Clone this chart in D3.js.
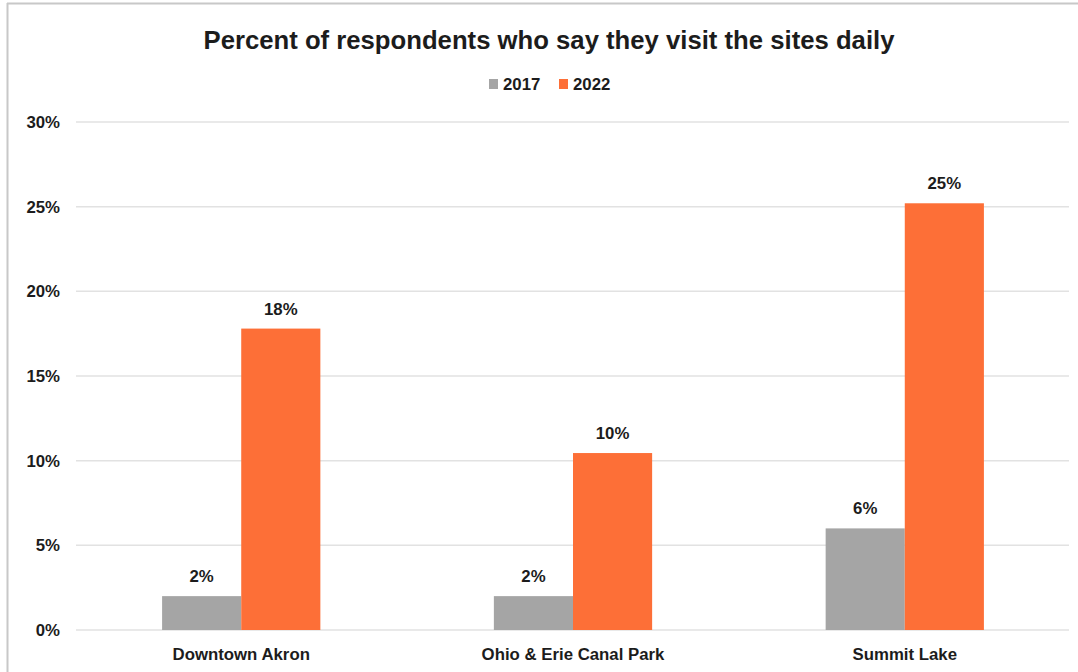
<!DOCTYPE html>
<html><head><meta charset="utf-8">
<script src="https://cdn.jsdelivr.net/npm/d3@7"></script>
<style>html,body{margin:0;padding:0;background:#fff;}svg{display:block;}</style>
</head><body>
<svg id="chart" width="1078" height="672"></svg>
<script>
const categories = ["Downtown Akron", "Ohio & Erie Canal Park", "Summit Lake"];
const seriesNames = ["2017", "2022"];
const values2017 = [2.0, 2.0, 6.0];
const values2022 = [17.8, 10.45, 25.2];
const labels2017 = ["2%", "2%", "6%"];
const labels2022 = ["18%", "10%", "25%"];
const yTicks = [0, 5, 10, 15, 20, 25, 30];
const colors = ["#a5a5a5", "#fd6f37"];

const svg = d3.select("#chart");
const W = 1078, H = 672;
const font = "'Liberation Sans', Arial, sans-serif";
const textColor = "#1c1c1c";
const fs = 16.8;

// frame
svg.append("rect").attr("x", 0).attr("y", 0).attr("width", W).attr("height", H).attr("fill", "#fff");
svg.append("line").attr("x1", 7.5).attr("x2", 7.5).attr("y1", 3).attr("y2", H).attr("stroke", "#c8c8c8").attr("stroke-width", 2);
svg.append("line").attr("x1", 7).attr("x2", W).attr("y1", 3.5).attr("y2", 3.5).attr("stroke", "#c8c8c8").attr("stroke-width", 2);

const x0 = d3.scaleBand().domain(categories).range([76.5, 1069.5]).paddingInner(0.523).paddingOuter(0.258);
const x1 = d3.scaleBand().domain(seriesNames).range([0, x0.bandwidth()]);
const y = d3.scaleLinear().domain([0, 30]).range([630, 122]);

// gridlines
svg.append("g").selectAll("line").data(yTicks).join("line")
  .attr("x1", 76).attr("x2", 1069)
  .attr("y1", d => y(d)).attr("y2", d => y(d))
  .attr("stroke", "#e2e2e2").attr("stroke-width", 1.5);

// y axis labels
const yAxis = d3.axisLeft(y).tickValues(yTicks).tickFormat(d => d + "%").tickSize(0).tickPadding(0);
const gy = svg.append("g").attr("transform", "translate(60,0)").call(yAxis);
gy.select(".domain").remove();
gy.selectAll("text").attr("font-family", font).attr("font-weight", "bold").attr("font-size", fs).attr("fill", textColor);

// bars
const data = categories.map((c, i) => ({cat: c, vals: [
  {s: "2017", v: values2017[i], l: labels2017[i], c: colors[0]},
  {s: "2022", v: values2022[i], l: labels2022[i], c: colors[1]}]}));

const groups = svg.append("g").selectAll("g").data(data).join("g")
  .attr("transform", d => `translate(${x0(d.cat)},0)`);
groups.selectAll("rect").data(d => d.vals).join("rect")
  .attr("x", d => x1(d.s)).attr("width", x1.bandwidth())
  .attr("y", d => y(d.v)).attr("height", d => y(0) - y(d.v))
  .attr("fill", d => d.c);
groups.selectAll("text").data(d => d.vals).join("text")
  .attr("x", d => x1(d.s) + x1.bandwidth() / 2)
  .attr("y", d => y(d.v) - 14)
  .attr("text-anchor", "middle")
  .attr("font-family", font).attr("font-weight", "bold").attr("font-size", fs).attr("fill", textColor)
  .text(d => d.l);

// x axis labels
const xAxis = d3.axisBottom(x0).tickSize(0).tickPadding(0);
const gx = svg.append("g").attr("transform", "translate(0,648)").call(xAxis);
gx.select(".domain").remove();
gx.selectAll("text").attr("font-family", font).attr("font-weight", "bold").attr("font-size", fs).attr("fill", textColor);

// title
svg.append("text").attr("x", 549).attr("y", 49).attr("text-anchor", "middle")
  .attr("font-family", font).attr("font-weight", "bold").attr("font-size", 25.7).attr("fill", textColor)
  .text("Percent of respondents who say they visit the sites daily");

// legend
const legend = svg.append("g");
const legendItems = [{n: seriesNames[0], c: colors[0], x: 489}, {n: seriesNames[1], c: colors[1], x: 559}];
legendItems.forEach(it => {
  legend.append("rect").attr("x", it.x).attr("y", 79).attr("width", 9).attr("height", 10).attr("fill", it.c);
  legend.append("text").attr("x", it.x + 14).attr("y", 90)
    .attr("font-family", font).attr("font-weight", "bold").attr("font-size", fs).attr("fill", textColor)
    .text(it.n);
});
</script>
</body></html>
